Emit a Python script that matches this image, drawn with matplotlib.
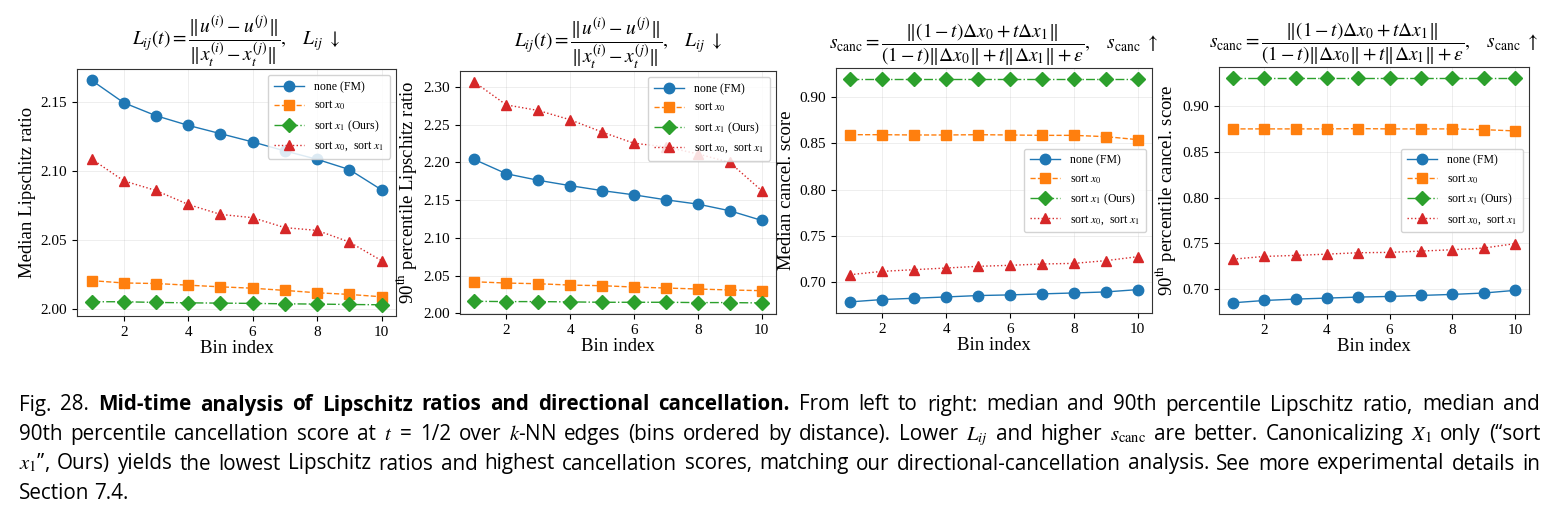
import numpy as np
import matplotlib
matplotlib.use("Agg")
from matplotlib import pyplot as plt
from matplotlib.ticker import MultipleLocator, FormatStrFormatter

plt.rcParams['font.family'] = ['Liberation Serif', 'DejaVu Serif']
plt.rcParams['mathtext.fontset'] = 'stix'

bins = np.arange(1, 11)

# median Lipschitz ratio
lip_med_none = [2.1656, 2.1493, 2.1399, 2.1329, 2.1269, 2.1209, 2.1144, 2.1083, 2.1009, 2.0862]
lip_med_x0 = [2.0204, 2.0187, 2.0183, 2.0171, 2.0159, 2.0149, 2.0133, 2.0116, 2.0104, 2.0087]
lip_med_x1 = [2.0051, 2.0051, 2.0046, 2.0043, 2.0041, 2.0039, 2.0036, 2.0034, 2.0031, 2.0029]
lip_med_both = [2.1086, 2.0927, 2.0857, 2.0756, 2.0684, 2.0660, 2.0588, 2.0568, 2.0484, 2.0349]

# 90th percentile Lipschitz ratio
lip_p90_none = [2.2039, 2.1850, 2.1763, 2.1692, 2.1626, 2.1570, 2.1504, 2.1447, 2.1359, 2.1231]
lip_p90_x0 = [2.0417, 2.0400, 2.0391, 2.0373, 2.0365, 2.0347, 2.0334, 2.0321, 2.0308, 2.0299]
lip_p90_x1 = [2.0158, 2.0154, 2.0154, 2.0150, 2.0145, 2.0145, 2.0145, 2.0141, 2.0141, 2.0136]
lip_p90_both = [2.3066, 2.2763, 2.2689, 2.2566, 2.2403, 2.2254, 2.2206, 2.2113, 2.2000, 2.1626]

# median cancellation score
canc_med_none = [0.6789, 0.6814, 0.6828, 0.6842, 0.6857, 0.6864, 0.6875, 0.6885, 0.6896, 0.6921]
canc_med_x0 = [0.8591, 0.8591, 0.8588, 0.8588, 0.8591, 0.8588, 0.8584, 0.8584, 0.8570, 0.8538]
canc_med_x1 = [0.9190, 0.9190, 0.9190, 0.9190, 0.9190, 0.9190, 0.9190, 0.9190, 0.9190, 0.9190]
canc_med_both = [0.7082, 0.7118, 0.7136, 0.7154, 0.7172, 0.7183, 0.7197, 0.7204, 0.7233, 0.7276]

# 90th percentile cancellation score
canc_p90_none = [0.6854, 0.6879, 0.6894, 0.6905, 0.6916, 0.6923, 0.6934, 0.6945, 0.6960, 0.6989]
canc_p90_x0 = [0.8748, 0.8748, 0.8748, 0.8748, 0.8751, 0.8748, 0.8748, 0.8748, 0.8740, 0.8726]
canc_p90_x1 = [0.9300, 0.9300, 0.9300, 0.9300, 0.9300, 0.9300, 0.9300, 0.9300, 0.9300, 0.9300]
canc_p90_both = [0.7329, 0.7359, 0.7370, 0.7384, 0.7399, 0.7403, 0.7417, 0.7432, 0.7450, 0.7498]

labels = ["none (FM)", r"sort $x_0$", r"sort $x_1$ (Ours)", r"sort $x_0$,  sort $x_1$"]
colors = ["#1f77b4", "#ff7f0e", "#2ca02c", "#d62728"]
markers = ["o", "s", "D", "^"]
styles = ["-", "--", "-.", ":"]

lip_title = (r"$L_{ij}(t) = \dfrac{\Vert u^{(i)} - u^{(j)}\Vert}{\Vert x_t^{(i)} - x_t^{(j)}\Vert},\quad L_{ij}\ \downarrow$")
canc_title = (r"$s_{\mathrm{canc}} = \dfrac{\Vert(1-t)\Delta x_0 + t\Delta x_1\Vert}"
              r"{(1-t)\Vert\Delta x_0\Vert + t\Vert\Delta x_1\Vert + \varepsilon},\quad s_{\mathrm{canc}}\ \uparrow$")

panels = [
    ([lip_med_none, lip_med_x0, lip_med_x1, lip_med_both], "Median Lipschitz ratio", lip_title, "upper right"),
    ([lip_p90_none, lip_p90_x0, lip_p90_x1, lip_p90_both], r"90$^{\mathrm{th}}$ percentile Lipschitz ratio", lip_title, "upper right"),
    ([canc_med_none, canc_med_x0, canc_med_x1, canc_med_both], "Median cancel. score", canc_title, "center right"),
    ([canc_p90_none, canc_p90_x0, canc_p90_x1, canc_p90_both], r"90$^{\mathrm{th}}$ percentile cancel. score", canc_title, "center right"),
]

W, H = 1557, 522
boxes = [(77, 396, 69, 316), (460, 776, 71, 314), (836, 1152, 68, 313), (1219, 1529, 67, 314)]

fig = plt.figure(figsize=(W / 100, H / 100), dpi=100)

for (series, ylabel, title, loc), (l, r, t, b) in zip(panels, boxes):
    ax = fig.add_axes([l / W, 1 - b / H, (r - l) / W, (b - t) / H])
    for vals, lab, c, m, ls in zip(series, labels, colors, markers, styles):
        ax.plot(bins, vals, color=c, marker=m, linestyle=ls, linewidth=1.0,
                markersize=7.5, label=lab)
    ax.grid(True, alpha=0.25, linewidth=0.6)
    ax.yaxis.set_major_locator(MultipleLocator(0.05))
    ax.set_xticks([2, 4, 6, 8, 10])
    ax.yaxis.set_major_formatter(FormatStrFormatter('%.2f'))
    ax.tick_params(labelsize=11)
    ax.set_xlabel("Bin index", fontsize=13.5, labelpad=1)
    ax.set_ylabel(ylabel, fontsize=13.5, labelpad=3)
    ax.set_title(title, fontsize=14, pad=3)
    for s in ax.spines.values():
        s.set_color("#333333")
    ax.legend(loc=loc, fontsize=8.5, framealpha=0.85, borderpad=0.5, labelspacing=0.5,
              handlelength=2.6)

# caption, justified line by line
cap_font = ['Open Sans', 'DejaVu Sans']
cap_size = 14.9
x0, x1 = 19, 1540
lines = [
    ([("Fig. 28. ", "normal"), ("Mid-time analysis of Lipschitz ratios and directional cancellation.", "bold"),
      ("From left to right: median and 90th percentile Lipschitz ratio, median and", "normal")], 410.5, True),
    ([("90th percentile cancellation score at $t$ = 1/2 over $k$-NN edges (bins ordered by distance). "
       "Lower $L_{ij}$ and higher $s_{\\mathrm{canc}}$ are better. Canonicalizing $X_1$ only (\u201csort", "normal")], 440, True),
    ([("$x_1$\u201d, Ours) yields the lowest Lipschitz ratios and highest cancellation scores, matching our "
       "directional-cancellation analysis. See more experimental details in", "normal")], 469.5, True),
    ([("Section 7.4.", "normal")], 499, False),
]

renderer = fig.canvas.get_renderer()
for segs, y, justify in lines:
    words = []
    for text, weight in segs:
        for w in text.split():
            words.append((w, weight))
    objs = []
    for w, weight in words:
        tx = fig.text(0, 1 - y / H, w, fontsize=cap_size, family=cap_font, weight=weight,
                      va='baseline', ha='left')
        objs.append(tx)
    widths = [o.get_window_extent(renderer).width for o in objs]
    if justify:
        gap = (x1 - x0 - sum(widths)) / (len(objs) - 1)
    else:
        gap = cap_size * 0.3
    x = x0
    for o, wd in zip(objs, widths):
        o.set_x(x / W)
        x += wd + gap

fig.savefig("out.png", dpi=100)
